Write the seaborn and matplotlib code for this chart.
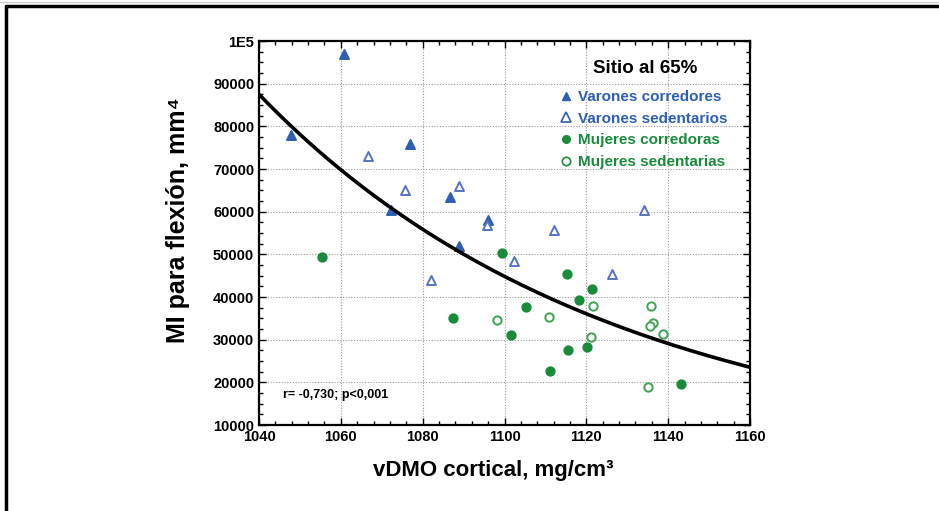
import numpy as np
import pandas as pd
import matplotlib
matplotlib.use("Agg")
import matplotlib.pyplot as plt
from matplotlib.lines import Line2D
from matplotlib.ticker import MultipleLocator, FuncFormatter
import seaborn as sns

# values
varones_corr_x = [1047.8, 1060.7, 1076.8, 1072.2, 1086.6, 1095.9, 1089.0]
varones_corr_y = [78000, 97000, 75900, 60400, 63500, 58100, 51900]

varones_sed_x = [1066.7, 1075.7, 1088.8, 1095.7, 1082.0, 1102.3, 1112.2, 1126.3, 1134.0]
varones_sed_y = [73000, 65000, 65900, 56900, 44100, 48500, 55700, 45400, 60400]

mujeres_corr_x = [1055.3, 1087.3, 1099.3, 1115.3, 1121.4, 1118.1, 1105.3, 1101.6,
                  1120.2, 1115.5, 1111.1, 1143.1]
mujeres_corr_y = [49300, 35100, 50300, 45500, 41900, 39200, 37700, 31000,
                  28300, 27500, 22700, 19600]

mujeres_sed_x = [1098.1, 1110.8, 1121.7, 1135.7, 1136.3, 1135.5, 1138.8, 1121.2, 1135.1]
mujeres_sed_y = [34600, 35200, 37900, 37900, 33900, 33300, 31300, 30600, 18800]

# points
curva_x = [1040, 1060, 1080, 1100, 1120, 1140, 1160]
curva_y = [87300, 69700, 56100, 45400, 35600, 28900, 23700]

grupos = ["Varones corredores", "Varones sedentarios", "Mujeres corredoras", "Mujeres sedentarias"]

azul = "#2d5fb5"
azul_claro = "#5673c4"
verde = "#198c3c"
verde_claro = "#3ea352"

sns.set_style("ticks")
plt.rcParams["font.family"] = ["Liberation Sans", "DejaVu Sans"]
plt.rcParams["font.weight"] = "bold"
plt.rcParams["text.color"] = "black"
plt.rcParams["axes.labelcolor"] = "black"
plt.rcParams["xtick.color"] = "black"
plt.rcParams["ytick.color"] = "black"

fig = plt.figure(figsize=(9.39, 5.11), dpi=100)
ax = fig.add_axes([259 / 939, 1 - 425 / 511, 491 / 939, 384 / 511])

df = pd.concat([
    pd.DataFrame({"x": varones_corr_x, "y": varones_corr_y, "grupo": grupos[0]}),
    pd.DataFrame({"x": varones_sed_x, "y": varones_sed_y, "grupo": grupos[1]}),
    pd.DataFrame({"x": mujeres_corr_x, "y": mujeres_corr_y, "grupo": grupos[2]}),
    pd.DataFrame({"x": mujeres_sed_x, "y": mujeres_sed_y, "grupo": grupos[3]}),
])

estilos = {
    grupos[0]: dict(marker="^", color=azul, edgecolor=azul, s=42),
    grupos[1]: dict(marker="^", color="white", edgecolor=azul_claro, s=42),
    grupos[2]: dict(marker="o", color=verde, edgecolor=verde, s=36),
    grupos[3]: dict(marker="o", color="white", edgecolor=verde_claro, s=36),
}

for g in grupos:
    st = estilos[g]
    sns.scatterplot(data=df[df.grupo == g], x="x", y="y", ax=ax, marker=st["marker"],
                    color=st["color"], edgecolor=st["edgecolor"], s=st["s"],
                    linewidth=1.4, zorder=3)

# smooth curve through the read points (quadratic in log space)
coef = np.polyfit(curva_x, np.log(curva_y), 2)
xx = np.linspace(1040, 1160, 200)
ax.plot(xx, np.exp(np.polyval(coef, xx)), color="black", lw=2.6, zorder=4)

ax.set_xlim(1040, 1160)
ax.set_ylim(10000, 100000)
ax.xaxis.set_major_locator(MultipleLocator(20))
ax.xaxis.set_minor_locator(MultipleLocator(4))
ax.yaxis.set_major_locator(MultipleLocator(10000))
ax.yaxis.set_minor_locator(MultipleLocator(2500))
ax.yaxis.set_major_formatter(FuncFormatter(lambda v, p: "1E5" if v >= 100000 else f"{int(v)}"))
ax.tick_params(which="both", direction="in", top=True, right=True, color="black")
ax.tick_params(which="major", length=5, width=1, labelsize=10.5)
ax.tick_params(which="minor", length=3, width=1)
for lab in ax.get_xticklabels() + ax.get_yticklabels():
    lab.set_fontweight("bold")
for sp in ax.spines.values():
    sp.set_linewidth(1.6)
    sp.set_color("black")
ax.grid(True, which="major", linestyle=(0, (1, 1.5)), color="#999999", lw=0.8)

ax.set_xlabel("vDMO cortical, mg/cm³", fontsize=16, fontweight="bold")
ax.set_ylabel("MI para flexión, mm⁴", fontsize=18, fontweight="bold")
ax.xaxis.set_label_coords((493 - 259) / 491, -(470 - 425) / 384)
ax.yaxis.set_label_coords(-(259 - 178) / 491, (425 - 220) / 384)
ax.xaxis.label.set_va("center")
ax.yaxis.label.set_va("center")

ax.text(0.049, 0.078, "r= -0,730; p<0,001", transform=ax.transAxes, fontsize=9,
        fontweight="bold", va="center")

# legend: title drawn separately, entries below it
ax.text((645 - 259) / 491, (425 - 68) / 384, "Sitio al 65%", transform=ax.transAxes,
        fontsize=13.5, fontweight="bold", ha="center", va="center")

handles = [
    Line2D([], [], marker="^", ls="", color=azul, markeredgecolor=azul, markersize=6),
    Line2D([], [], marker="^", ls="", markerfacecolor="white", markeredgecolor=azul, markersize=7, markeredgewidth=1.2),
    Line2D([], [], marker="o", ls="", color=verde, markeredgecolor=verde, markersize=5.5),
    Line2D([], [], marker="o", ls="", markerfacecolor="white", markeredgecolor=verde, markersize=6, markeredgewidth=1.2),
]
ax.legend(handles, grupos, loc="upper left", bbox_to_anchor=((560 - 259) / 491, (425 - 90) / 384),
          frameon=False, prop={"weight": "bold", "size": 11}, labelcolor=[azul, azul, verde, verde],
          handlelength=0.8, handletextpad=0.4, labelspacing=0.5, borderpad=0, borderaxespad=0)

# outer frame of the figure (top and left edges)
fig.add_artist(Line2D([0, 1], [1 - 2.5 / 511, 1 - 2.5 / 511], transform=fig.transFigure, color="#cccccc", lw=1))
fig.add_artist(Line2D([6 / 939, 1], [1 - 6 / 511, 1 - 6 / 511], transform=fig.transFigure, color="black", lw=2.5))
fig.add_artist(Line2D([6 / 939, 6 / 939], [0, 1 - 6 / 511], transform=fig.transFigure, color="black", lw=2.5))

fig.savefig("out.png", dpi=100)
